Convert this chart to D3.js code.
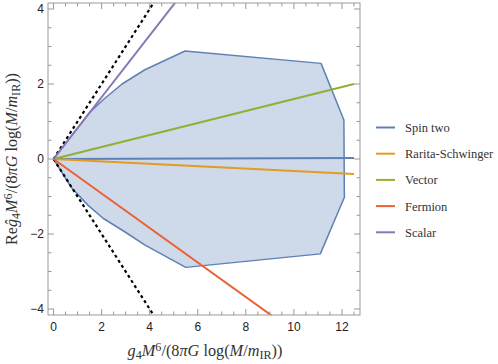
<!DOCTYPE html>
<html><head><meta charset="utf-8">
<script src="https://cdn.jsdelivr.net/npm/d3@7"></script>
<style>body{margin:0;background:#fff}svg{display:block}</style>
</head><body>
<svg id="c" width="498" height="364"></svg>
<script>
// ---- data ----
const xTicks = [0, 2, 4, 6, 8, 10, 12];
const yTicks = [-4, -2, 0, 2, 4];
const regionUpper = [[0,0],[0.6,0.5],[1.5,1.24],[2.1,1.6],[2.85,2.0],[3.8,2.38],[5.47,2.88],[11.13,2.55],[12.08,1.04]];
const regionLower = [[12.1,-1.02],[11.1,-2.53],[5.5,-2.89],[3.79,-2.29],[2.96,-1.94],[2.06,-1.58],[1.43,-1.23],[0.74,-0.76],[0,0]];
const seriesNames = ["Spin two", "Rarita-Schwinger", "Vector", "Fermion", "Scalar"];
const seriesColors = ["#5E81B5", "#E19C24", "#8FB032", "#EB6235", "#8778B3"];
const seriesLines = [
  [[0,0],[12.5,0.03]],
  [[0,0],[12.5,-0.4]],
  [[0,0],[12.5,2.0]],
  [[0,0],[12.5,-5.75]],
  [[0,0],[12.5,10.3]]
];
const boundUpper = [[0,0],[6,6]];
const boundLower = [[0,0],[6,-6]];

// ---- layout ----
const svg = d3.select("#c");
const L = 48, R = 360, T = 3, B = 315;
const x = d3.scaleLinear().domain([-0.23, 12.75]).range([L, R]);
const y = d3.scaleLinear().domain([-4.16, 4.16]).range([B, T]);
const line = d3.line().x(d => x(d[0])).y(d => y(d[1]));

svg.append("defs").append("clipPath").attr("id","clip")
  .append("rect").attr("x",L).attr("y",T).attr("width",R-L).attr("height",B-T);
const g = svg.append("g").attr("clip-path","url(#clip)");

// region
const poly = regionUpper.concat(regionLower);
g.append("path").attr("d", line(poly) + "Z")
  .attr("fill","#5E81B5").attr("fill-opacity",0.3)
  .attr("stroke","#5E81B5").attr("stroke-width",1.5).attr("stroke-linejoin","round");

// dashed bounds
[boundUpper, boundLower].forEach(b => {
  g.append("path").attr("d", line(b)).attr("fill","none")
    .attr("stroke","#000").attr("stroke-width",2.2).attr("stroke-dasharray","3,3");
});

// series lines
seriesLines.forEach((s,i) => {
  g.append("path").attr("d", line(s)).attr("fill","none")
    .attr("stroke", seriesColors[i]).attr("stroke-width",2);
});

// frame
const frameCol = "#999";
svg.append("rect").attr("x",L).attr("y",T).attr("width",R-L).attr("height",B-T)
  .attr("fill","none").attr("stroke",frameCol).attr("stroke-width",1);

// ticks
const xMinor = d3.range(0, 12.76, 0.5);
const yMinor = d3.range(-4, 4.01, 0.5);
const tk = svg.append("g").attr("stroke",frameCol).attr("stroke-width",1);
xMinor.forEach(v => {
  const major = Math.abs(v % 2) < 1e-9;
  const len = major ? 6 : 3.5;
  tk.append("line").attr("x1",x(v)).attr("x2",x(v)).attr("y1",B).attr("y2",B-len);
  tk.append("line").attr("x1",x(v)).attr("x2",x(v)).attr("y1",T).attr("y2",T+len);
});
yMinor.forEach(v => {
  const major = Math.abs(v % 2) < 1e-9;
  const len = major ? 6 : 3.5;
  tk.append("line").attr("y1",y(v)).attr("y2",y(v)).attr("x1",L).attr("x2",L+len);
  tk.append("line").attr("y1",y(v)).attr("y2",y(v)).attr("x1",R).attr("x2",R-len);
});

const fmt = v => (v < 0 ? "\u2212" : "") + Math.abs(v);
svg.append("g").selectAll("text").data(xTicks).join("text")
  .attr("x", d => x(d)).attr("y", 331).attr("text-anchor","middle")
  .attr("font-family","Liberation Sans, Arial, sans-serif").attr("font-size",12).attr("fill","#222")
  .text(fmt);
svg.append("g").selectAll("text").data(yTicks).join("text")
  .attr("x", 44).attr("y", d => y(d) + 4).attr("text-anchor","end")
  .attr("font-family","Liberation Sans, Arial, sans-serif").attr("font-size",12).attr("fill","#222")
  .text(fmt);

// axis titles
function mathTitle(sel, parts) {
  parts.forEach(p => {
    const t = sel.append("tspan").text(p.t);
    if (p.i) t.attr("font-style","italic");
    if (p.sub) t.attr("baseline-shift","-25%").attr("font-size","75%");
    if (p.sup) t.attr("baseline-shift","40%").attr("font-size","75%");
  });
}
function fit(sel, target) {
  const w = sel.node().getComputedTextLength();
  const fs = 14 * target / w;
  sel.attr("font-size", Math.max(12, Math.min(17, fs)));
}
const xt = svg.append("text").attr("x",205).attr("y",356).attr("text-anchor","middle")
  .attr("font-family","Liberation Serif, DejaVu Serif, serif").attr("font-size",14).attr("fill","#333");
mathTitle(xt, [{t:"g",i:1},{t:"4",sub:1},{t:"M",i:1},{t:"6",sup:1},{t:"/(8"},{t:"\u03C0G",i:1},{t:" log("},{t:"M",i:1},{t:"/"},{t:"m",i:1},{t:"IR",sub:1},{t:"))"}]);
fit(xt, 155);

const yt = svg.append("text").attr("transform","translate(17,159) rotate(-90)").attr("text-anchor","middle")
  .attr("font-family","Liberation Serif, DejaVu Serif, serif").attr("font-size",14).attr("fill","#333");
mathTitle(yt, [{t:"Re"},{t:"\u011D",i:1},{t:"4",sub:1},{t:"M",i:1},{t:"6",sup:1},{t:"/(8"},{t:"\u03C0G",i:1},{t:" log("},{t:"M",i:1},{t:"/"},{t:"m",i:1},{t:"IR",sub:1},{t:"))"}]);
fit(yt, 172);

// legend
const lg = svg.append("g");
seriesNames.forEach((n,i) => {
  const yy = 127.5 + i*26.2;
  lg.append("line").attr("x1",376).attr("x2",395).attr("y1",yy).attr("y2",yy)
    .attr("stroke",seriesColors[i]).attr("stroke-width",2);
  lg.append("text").attr("x",405).attr("y",yy+4.5)
    .attr("font-family","Liberation Serif, DejaVu Serif, serif").attr("font-size",12.5).attr("fill","#333").text(n);
});
</script>
</body></html>
